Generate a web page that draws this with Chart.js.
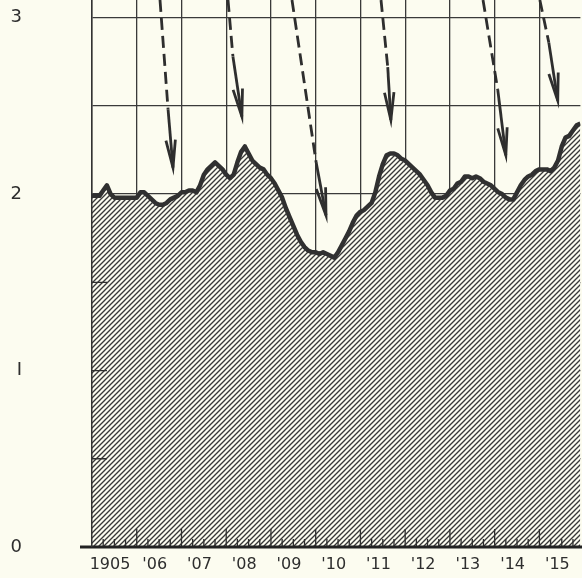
<!DOCTYPE html>
<html>
<head>
<meta charset="utf-8">
<script src="https://cdn.jsdelivr.net/npm/chart.js@4.4.1/dist/chart.umd.min.js"></script>
<style>
  html, body { margin: 0; padding: 0; background: #fcfcf0; }
  #wrap { position: relative; width: 582px; height: 578px; }
</style>
</head>
<body>
<div id="wrap"><canvas id="chart"></canvas></div>
<script>
// Monthly index, January 1905 through December 1915
const startYear = 1905;
const values1905 = [1.99, 1.99, 1.99, 2.02, 2.05, 2.00, 1.98, 1.98, 1.98, 1.98, 1.98, 1.98];
const values1906 = [1.98, 2.01, 2.01, 1.99, 1.97, 1.95, 1.94, 1.94, 1.95, 1.97, 1.98, 1.99];
const values1907 = [2.01, 2.01, 2.02, 2.02, 2.01, 2.05, 2.11, 2.14, 2.16, 2.18, 2.16, 2.14];
const values1908 = [2.11, 2.09, 2.11, 2.18, 2.24, 2.27, 2.23, 2.19, 2.17, 2.15, 2.14, 2.11];
const values1909 = [2.09, 2.06, 2.02, 1.98, 1.92, 1.87, 1.82, 1.77, 1.73, 1.70, 1.68, 1.67];
const values1910 = [1.67, 1.66, 1.67, 1.66, 1.65, 1.64, 1.67, 1.71, 1.75, 1.79, 1.84, 1.88];
const values1911 = [1.90, 1.91, 1.93, 1.95, 2.01, 2.10, 2.17, 2.22, 2.23, 2.23, 2.22, 2.20];
const values1912 = [2.19, 2.17, 2.15, 2.13, 2.11, 2.08, 2.05, 2.01, 1.98, 1.98, 1.98, 1.99];
const values1913 = [2.02, 2.03, 2.06, 2.07, 2.10, 2.10, 2.09, 2.10, 2.09, 2.07, 2.06, 2.05];
const values1914 = [2.03, 2.01, 2.00, 1.98, 1.97, 1.97, 2.01, 2.05, 2.08, 2.10, 2.11, 2.13];
const values1915 = [2.14, 2.14, 2.14, 2.13, 2.15, 2.19, 2.27, 2.32, 2.33, 2.36, 2.39, 2.40];

const yearTicks = [1905, 1906, 1907, 1908, 1909, 1910, 1911, 1912, 1913, 1914, 1915];
const yearLabels = ["1905", "'06", "'07", "'08", "'09", "'10", "'11", "'12", "'13", "'14", "'15"];
const valueTicks = [0, 0.5, 1, 1.5, 2, 2.5, 3];
const valueLabels = { 0: "0", 1: "I", 2: "2", 3: "3" };

// Arrows: [start year, start value, end of dashes year, end of dashes value, tip year, tip value]
const arrows = [
  [1906.52, 3.10, 1906.70, 2.48, 1906.81, 2.15],
  [1908.04, 3.10, 1908.15, 2.78, 1908.35, 2.44],
  [1909.47, 3.10, 1910.01, 2.18, 1910.23, 1.88],
  [1911.46, 3.10, 1911.61, 2.72, 1911.68, 2.42],
  [1913.74, 3.10, 1914.07, 2.59, 1914.25, 2.22],
  [1915.01, 3.10, 1915.21, 2.86, 1915.41, 2.53]
];

const allValues = [].concat(values1905, values1906, values1907, values1908, values1909,
  values1910, values1911, values1912, values1913, values1914, values1915);
const points = allValues.map((v, i) => ({ x: startYear + i / 12, y: v }));

const BG = '#fcfcf0';
const INK = '#2e2e2e';

// diagonal hatching used under the curve
function hatchPattern() {
  const t = 5;
  const c = document.createElement('canvas');
  c.width = t; c.height = t;
  const g = c.getContext('2d');
  g.fillStyle = BG;
  g.fillRect(0, 0, t, t);
  g.strokeStyle = '#383838';
  g.lineWidth = 1.35;
  g.beginPath();
  g.moveTo(-1, t + 1); g.lineTo(t + 1, -1);
  g.moveTo(-1, 1); g.lineTo(1, -1);
  g.moveTo(t - 1, t + 1); g.lineTo(t + 1, t - 1);
  g.stroke();
  return g.createPattern(c, 'repeat');
}

const decorations = {
  id: 'decorations',
  afterDatasetsDraw(chart) {
    const ctx = chart.ctx;
    const xs = chart.scales.x, ys = chart.scales.y;
    const area = chart.chartArea;
    const y0 = ys.getPixelForValue(0);
    ctx.save();
    ctx.strokeStyle = INK;
    ctx.lineCap = 'butt';

    // quarterly and yearly ticks along the base
    ctx.lineWidth = 1.3;
    ctx.beginPath();
    for (let q = 1; q < 44; q++) {
      const xv = startYear + q / 4;
      const px = xs.getPixelForValue(xv);
      if (px > area.right) break;
      const h = (q % 4 === 0) ? 18 : 8;
      ctx.moveTo(px, y0);
      ctx.lineTo(px, y0 - h);
    }
    // short marks on the left edge
    [0.5, 1, 1.5].forEach(v => {
      const py = ys.getPixelForValue(v);
      ctx.moveTo(area.left, py);
      ctx.lineTo(area.left + 15, py);
    });
    ctx.stroke();

    // heavy base line
    ctx.lineWidth = 3;
    ctx.strokeStyle = '#222';
    ctx.beginPath();
    ctx.moveTo(area.left - 12, y0);
    ctx.lineTo(chart.width, y0);
    ctx.stroke();

    // arrows
    ctx.strokeStyle = INK;
    ctx.lineWidth = 2.8;
    arrows.forEach(a => {
      const sx = xs.getPixelForValue(a[0]), sy = ys.getPixelForValue(a[1]);
      const mx = xs.getPixelForValue(a[2]), my = ys.getPixelForValue(a[3]);
      const tx = xs.getPixelForValue(a[4]), ty = ys.getPixelForValue(a[5]);
      ctx.setLineDash([12, 6]);
      ctx.beginPath();
      ctx.moveTo(sx, sy); ctx.lineTo(mx, my);
      ctx.stroke();
      ctx.setLineDash([]);
      ctx.beginPath();
      ctx.moveTo(mx, my); ctx.lineTo(tx, ty);
      ctx.stroke();
      const ang = Math.atan2(ty - my, tx - mx);
      const len = 28, spread = 0.17;
      ctx.beginPath();
      ctx.moveTo(tx - len * Math.cos(ang - spread), ty - len * Math.sin(ang - spread));
      ctx.lineTo(tx, ty);
      ctx.lineTo(tx - len * Math.cos(ang + spread), ty - len * Math.sin(ang + spread));
      ctx.stroke();
    });
    ctx.restore();
  }
};

const background = {
  id: 'background',
  beforeDraw(chart) {
    const ctx = chart.ctx;
    ctx.save();
    ctx.fillStyle = BG;
    ctx.fillRect(0, 0, chart.width, chart.height);
    ctx.restore();
  }
};

new Chart(document.getElementById('chart'), {
  type: 'line',
  data: {
    datasets: [{
      data: points,
      borderColor: '#303030',
      borderWidth: 4.5,
      borderJoinStyle: 'round',
      pointRadius: 0,
      tension: 0,
      fill: 'origin',
      backgroundColor: hatchPattern()
    }]
  },
  options: {
    responsive: true,
    maintainAspectRatio: false,
    animation: false,
    events: [],
    layout: { padding: { left: 0, right: 1.6, top: 0, bottom: 0 } },
    plugins: { legend: { display: false }, tooltip: { enabled: false } },
    scales: {
      x: {
        type: 'linear',
        min: startYear,
        max: startYear + (allValues.length - 1) / 12,
        afterBuildTicks: s => { s.ticks = yearTicks.map(v => ({ value: v })); },
        afterFit: s => { s.height = 31; s.paddingLeft = 0; s.paddingRight = 0; },
        ticks: {
          autoSkip: false,
          maxRotation: 0,
          padding: 8,
          labelOffset: 18,
          color: INK,
          font: { family: 'DejaVu Sans', size: 16 },
          callback: v => yearLabels[yearTicks.indexOf(v)] ?? ''
        },
        grid: { color: '#3a3a3a', lineWidth: 1.3, drawTicks: false },
        border: { display: false }
      },
      y: {
        min: 0,
        max: 3.1,
        afterBuildTicks: s => { s.ticks = valueTicks.map(v => ({ value: v })); },
        afterFit: s => { s.width = 92; s.paddingTop = 0; s.paddingBottom = 0; },
        ticks: {
          padding: 70,
          color: INK,
          font: { family: 'DejaVu Sans', size: 18 },
          callback: v => valueLabels[v] ?? ''
        },
        grid: { color: '#3a3a3a', lineWidth: 1.3, drawTicks: false },
        border: { display: true, color: '#333', width: 1.5, z: 1 }
      }
    }
  },
  plugins: [background, decorations]
});
</script>
</body>
</html>
